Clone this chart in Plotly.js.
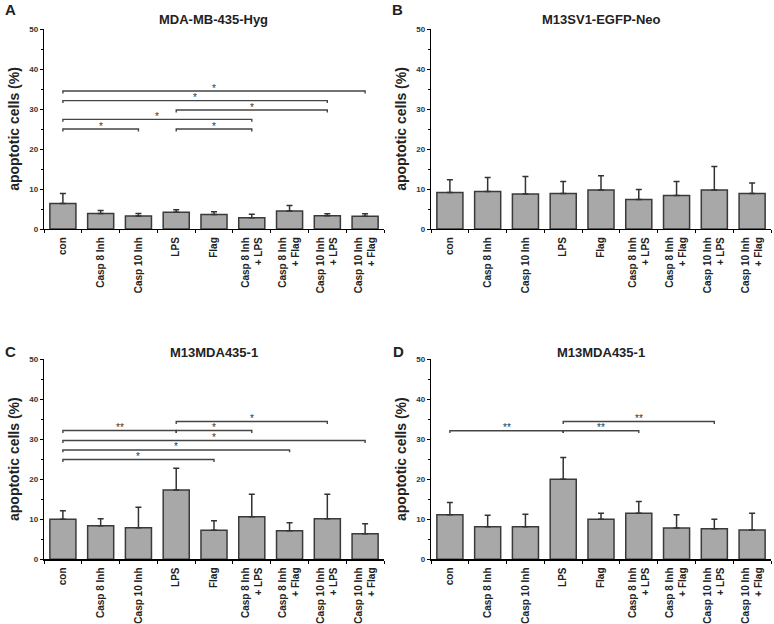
<!DOCTYPE html>
<html>
<head>
<meta charset="utf-8">
<script src="https://cdn.plot.ly/plotly-3.0.1.min.js"></script>
<style>html,body{margin:0;padding:0;background:#fff;}#chart{width:774px;height:624px;}</style>
</head>
<body>
<div id="chart"></div>
<script>
// ---- data ----
const categories = ["con", "Casp 8 Inh", "Casp 10 Inh", "LPS", "Flag",
  "Casp 8 Inh<br>+ LPS", "Casp 8 Inh<br>+ Flag", "Casp 10 Inh<br>+ LPS", "Casp 10 Inh<br>+ Flag"];

const panelTitles = ["MDA-MB-435-Hyg", "M13SV1-EGFP-Neo", "M13MDA435-1", "M13MDA435-1"];
const panelLetters = ["A", "B", "C", "D"];

const valuesA = [6.4, 3.9, 3.25, 4.2, 3.6, 2.8, 4.5, 3.3, 3.2];
const errorsA = [2.5, 0.7, 0.65, 0.6, 0.7, 0.9, 1.4, 0.5, 0.6];
const valuesB = [9.15, 9.4, 8.75, 8.9, 9.75, 7.4, 8.4, 9.75, 8.9];
const errorsB = [3.15, 3.5, 4.4, 3.0, 3.55, 2.5, 3.5, 5.85, 2.6];
const valuesC = [10.0, 8.4, 7.9, 17.3, 7.25, 10.65, 7.1, 10.15, 6.4];
const errorsC = [2.1, 1.75, 5.1, 5.4, 2.4, 5.6, 2.05, 6.1, 2.5];
const valuesD = [11.1, 8.15, 8.15, 20.0, 10.0, 11.5, 7.8, 7.6, 7.3];
const errorsD = [3.05, 2.85, 3.1, 5.4, 1.5, 2.9, 3.3, 2.4, 4.2];

// significance brackets: from-category index, to-category index, height, label
const bracketFromA = [0, 0, 3, 0, 0, 3];
const bracketToA   = [8, 7, 7, 5, 2, 5];
const bracketYA    = [34.5, 32.1, 29.75, 27.4, 25.0, 25.0];
const bracketLabA  = ["*", "*", "*", "*", "*", "*"];
const bracketFromB = [];
const bracketToB   = [];
const bracketYB    = [];
const bracketLabB  = [];
const bracketFromC = [3, 0, 3, 0, 0, 0];
const bracketToC   = [7, 3, 5, 8, 6, 4];
const bracketYC    = [34.4, 32.15, 32.15, 29.65, 27.3, 24.9];
const bracketLabC  = ["*", "**", "*", "*", "*", "*"];
const bracketFromD = [3, 0, 3];
const bracketToD   = [7, 3, 5];
const bracketYD    = [34.4, 32.1, 32.1];
const bracketLabD  = ["**", "**", "**"];

// ---- build ----
const FONT = "Arial, 'Liberation Sans', sans-serif";
const panels = [
  {v: valuesA, e: errorsA, bf: bracketFromA, bt: bracketToA, by: bracketYA, bl: bracketLabA},
  {v: valuesB, e: errorsB, bf: bracketFromB, bt: bracketToB, by: bracketYB, bl: bracketLabB},
  {v: valuesC, e: errorsC, bf: bracketFromC, bt: bracketToC, by: bracketYC, bl: bracketLabC},
  {v: valuesD, e: errorsD, bf: bracketFromD, bt: bracketToD, by: bracketYD, bl: bracketLabD}
];
const W = 774, H = 624;
const xDom = [[44 / W, 384 / W], [431 / W, 771 / W]];
const yDom = [[1 - 229 / H, 1 - 29 / H], [1 - 559.3 / H, 1 - 359 / H]];
const titleY = [1 - 19 / H, 1 - 352 / H];
const letterPos = [[3, 10], [390, 10], [3, 351], [391, 351]];

const traces = [];
const annotations = [];
const layout = {
  width: W, height: H,
  margin: {l: 0, r: 0, t: 0, b: 0},
  paper_bgcolor: "#fff", plot_bgcolor: "#fff",
  showlegend: false,
  bargap: 0.31,
  font: {family: FONT, color: "#222"},
  annotations: annotations
};

panels.forEach((p, k) => {
  const sfx = k === 0 ? "" : String(k + 1);
  const xa = "x" + sfx, ya = "y" + sfx;
  const col = k % 2, row = Math.floor(k / 2);
  traces.push({
    type: "bar", x: categories, y: p.v, xaxis: xa, yaxis: ya,
    marker: {color: "#a8a8a8", line: {color: "#3a3a3a", width: 1.5}},
    error_y: {type: "data", symmetric: false, array: p.e, arrayminus: p.e.map(() => 0),
              color: "#333", thickness: 1.5, width: 3},
    hoverinfo: "skip"
  });
  // brackets
  const bx = [], byy = [];
  for (let i = 0; i < p.bf.length; i++) {
    const a = categories[p.bf[i]], b = categories[p.bt[i]], y = p.by[i];
    bx.push(a, a, b, b, null);
    byy.push(y - 0.6, y, y, y - 0.6, null);
    annotations.push({
      xref: xa, yref: ya, x: (p.bf[i] + p.bt[i]) / 2, y: y,
      text: p.bl[i], showarrow: false, yanchor: "middle", yshift: 3,
      font: {family: FONT, size: 10, color: "#333"}
    });
  }
  if (bx.length) {
    traces.push({
      type: "scatter", mode: "lines", x: bx, y: byy, xaxis: xa, yaxis: ya,
      line: {color: "#444", width: 1.4}, connectgaps: false, hoverinfo: "skip"
    });
  }
  layout["xaxis" + sfx] = {
    domain: xDom[col], anchor: ya, type: "category",
    range: [-0.5, 8.5], tickson: "boundaries", ticks: "outside", ticklen: 3, tickcolor: "#000",
    tickangle: -90, ticklabelstandoff: 3,
    tickfont: {family: FONT, size: 10, color: "#222", weight: "bold"},
    showline: true, linecolor: "#000", linewidth: 1.2, showgrid: false, zeroline: false,
    automargin: false, fixedrange: true
  };
  layout["yaxis" + sfx] = {
    domain: yDom[row], anchor: xa, range: [0, 50],
    tickvals: [0, 10, 20, 30, 40, 50], ticks: "outside", ticklen: 3, tickcolor: "#000",
    minor: {dtick: 5, ticks: "outside", ticklen: 2, tickcolor: "#000", showgrid: false},
    tickfont: {family: FONT, size: 8, color: "#333", weight: "bold"},
    showline: true, linecolor: "#000", linewidth: 1.2, showgrid: false, zeroline: false,
    title: {text: "apoptotic cells (%)", font: {family: FONT, size: 14, color: "#222", weight: "bold"}, standoff: 6},
    automargin: false, fixedrange: true
  };
  annotations.push({
    xref: "paper", yref: "paper", x: (xDom[col][0] + xDom[col][1]) / 2, y: titleY[row],
    text: panelTitles[k], showarrow: false, xanchor: "center", yanchor: "middle",
    font: {family: FONT, size: 13, color: "#222", weight: "bold"}
  });
  annotations.push({
    xref: "paper", yref: "paper", x: letterPos[k][0] / W, y: 1 - letterPos[k][1] / H,
    text: panelLetters[k], showarrow: false, xanchor: "left", yanchor: "middle",
    font: {family: FONT, size: 15, color: "#222", weight: "bold"}
  });
});

Plotly.newPlot("chart", traces, layout, {staticPlot: true, displayModeBar: false});
</script>
</body>
</html>
